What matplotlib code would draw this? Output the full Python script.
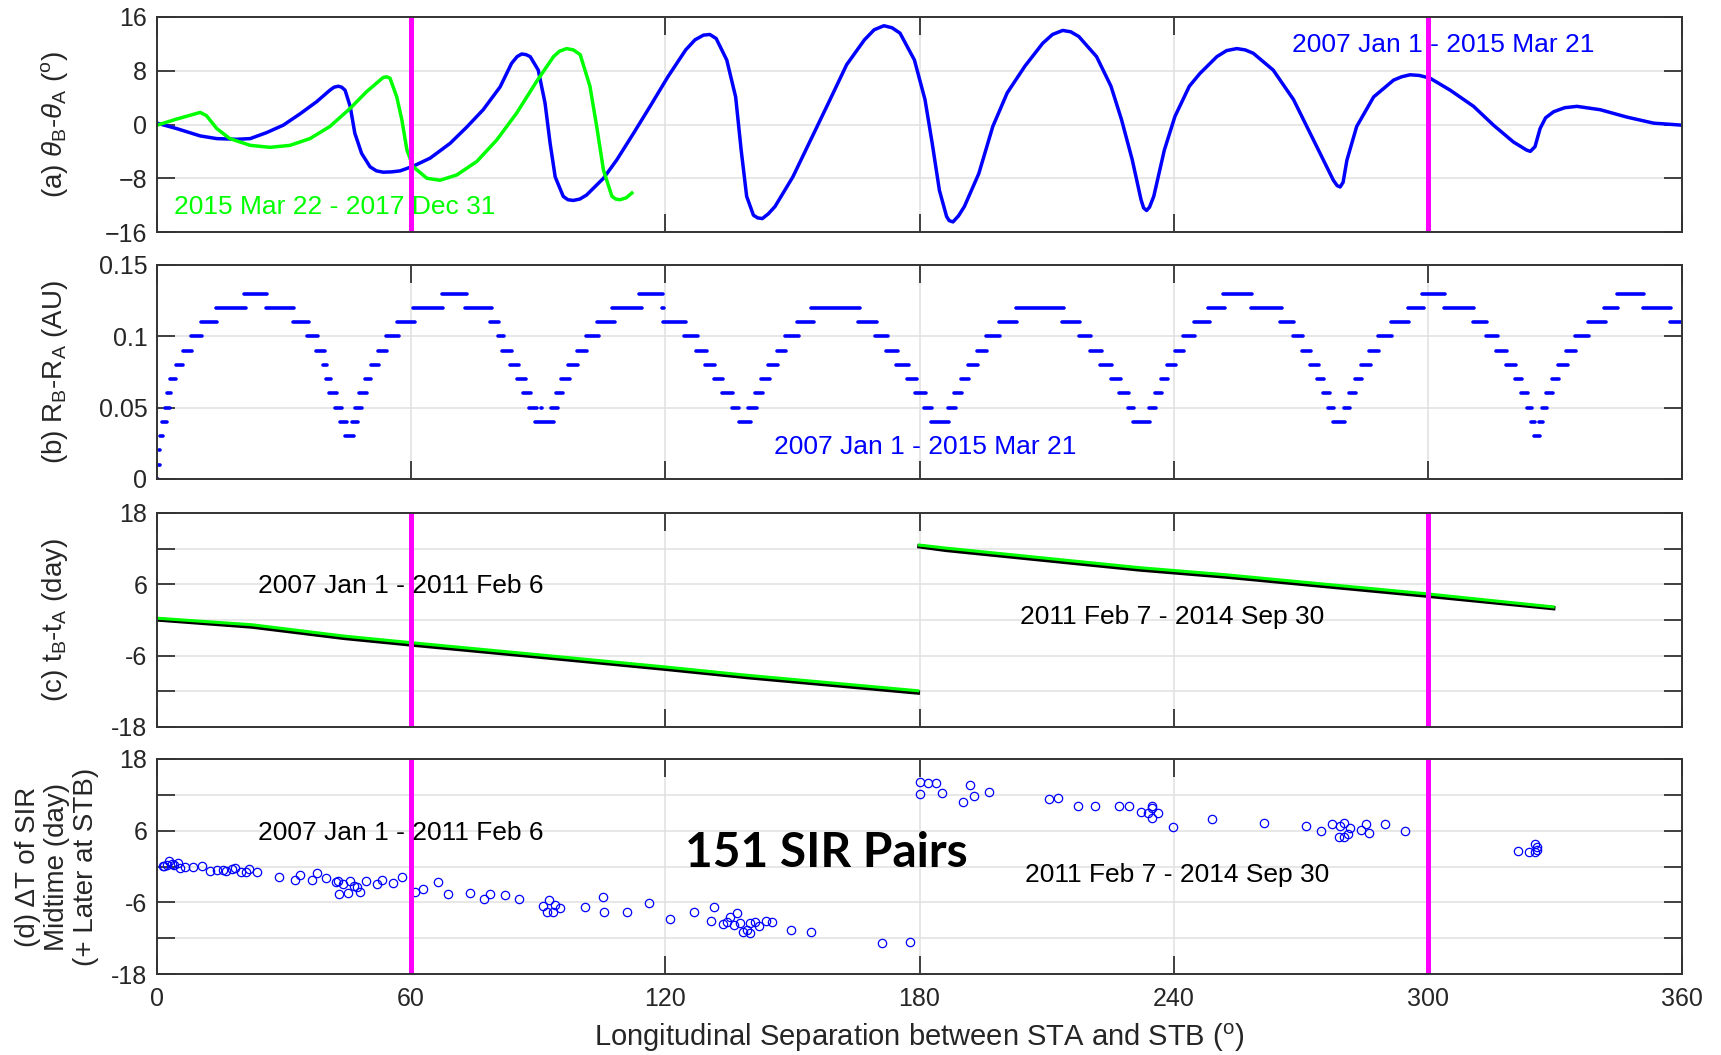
import matplotlib
matplotlib.use("Agg")
import matplotlib.pyplot as plt

plt.rcParams['font.family'] = ['Liberation Sans', 'DejaVu Sans']
plt.rcParams['mathtext.fontset'] = 'custom'
plt.rcParams['mathtext.rm'] = 'Liberation Sans'
plt.rcParams['mathtext.it'] = 'Liberation Sans:italic'
plt.rcParams['mathtext.bf'] = 'Liberation Sans:bold'

# ---------------- data ----------------
# (a) latitude difference, STEREO era 1 (blue) and era 2 (green)
a_blue_lon = [0, 4.6, 10.2, 14.1, 18.8, 22.0, 25.9, 29.8, 33.8, 37.7, 40.8, 41.8, 42.8, 43.6,
              44.4, 45.6, 46.7, 48.3, 50.3, 51.8, 53.4, 55.4, 57.4, 60.5, 64.5, 69.2, 73.1,
              77.0, 81.0, 83.7, 85.0, 86.1, 87.1, 88.1, 90.0, 91.6, 92.8, 94.0, 95.9, 97.0,
              98.3, 99.8, 101.4, 105.4, 108.5, 112.5, 116.4, 120.6, 124.8, 127.0, 129.0,
              130.5, 132.0, 134.5, 136.6, 137.9, 139.2, 140.8, 141.8, 142.9, 144.3, 145.9,
              150.1, 154.3, 158.5, 162.8, 167.0, 169.3, 171.6, 173.5, 175.4, 178.8, 181.3,
              183.0, 184.7, 186.4, 187.0, 187.9, 189.2, 190.6, 194.0, 197.3, 200.7, 204.9,
              209.1, 211.4, 213.8, 215.7, 217.6, 221.8, 225.2, 227.7, 230.2, 232.3, 232.9,
              233.6, 234.3, 235.3, 237.8, 240.3, 243.7, 246.2, 250.2, 252.5, 254.9, 256.9,
              258.8, 263.5, 268.3, 273.0, 277.7, 278.6, 279.3, 280.0, 280.9, 283.2, 287.2,
              291.9, 293.8, 295.8, 298.0, 300.5, 305.3, 310.8, 315.5, 320.2, 323.3, 324.2,
              325.3, 326.5, 327.8, 329.7, 332.3, 335.2, 340.7, 347.0, 353.3, 360.0]
a_blue_val = [0.2, -0.6, -1.7, -2.1, -2.2, -2.1, -1.2, -0.1, 1.6, 3.4, 5.1, 5.55, 5.7, 5.55,
              5.1, 2.7, -1.3, -4.3, -6.3, -6.9, -7.1, -7.05, -6.9, -6.2, -5.0, -2.8, -0.4,
              2.2, 5.6, 9.1, 10.1, 10.5, 10.4, 10.1, 8.1, 3.2, -2.8, -7.8, -10.7, -11.2,
              -11.3, -11.1, -10.5, -8.0, -5.3, -1.3, 2.7, 7.1, 11.1, 12.6, 13.3,
              13.4, 12.8, 9.6, 4.1, -3.8, -10.7, -13.5, -13.9, -14.0, -13.3, -12.2,
              -7.8, -2.3, 3.2, 8.9, 12.6, 14.1, 14.7, 14.4, 13.6, 9.6, 3.7,
              -2.8, -9.8, -13.7, -14.3, -14.5, -13.6, -12.2, -7.3, -0.3, 4.7, 8.7,
              12.1, 13.4, 14.0, 13.8, 13.1, 10.1, 5.7, 0.7, -5.2, -11.2, -12.4,
              -12.8, -12.3, -10.7, -3.8, 1.2, 5.7, 7.6, 10.1, 11.0, 11.3, 11.1,
              10.6, 8.1, 3.7, -2.3, -8.3, -9.1, -9.3, -8.6, -5.3, -0.3, 4.1,
              6.6, 7.1, 7.4, 7.3, 6.9, 5.1, 2.7, -0.1, -2.6, -3.8, -4.0,
              -3.3, -0.6, 1.0, 1.9, 2.5, 2.7, 2.2, 1.1, 0.2, -0.1]
a_green_lon = [0, 4.6, 10.2, 11.7, 14.1, 17.2, 22.0, 26.7, 31.4, 36.1, 40.8, 45.6, 49.5,
               53.4, 54.2, 55.0, 56.6, 57.8, 59.0, 60.5, 63.7, 66.8, 70.8, 75.5, 80.2, 84.9,
               89.6, 93.6, 95.0, 96.7, 98.3, 99.9, 102.2, 103.8, 105.4, 107.4, 108.3, 109.3,
               110.8, 112.1]
a_green_val = [-0.1, 0.8, 1.8, 1.3, -0.6, -2.1, -3.1, -3.4, -3.1, -2.1, -0.3, 2.4, 4.9,
               7.0, 7.1, 6.9, 4.1, 0.7, -3.8, -6.3, -8.0, -8.3, -7.5, -5.5, -2.3, 1.7,
               6.4, 10.1, 10.9, 11.3, 11.1, 10.4, 5.7, -0.3, -6.8, -10.7, -11.1, -11.2,
               -10.9, -10.2]

# (b) radial distance difference, runs of constant rounded value
b_level = [0.00, 0.01, 0.02, 0.03, 0.04, 0.05, 0.06, 0.07, 0.08, 0.09, 0.10, 0.11, 0.12, 0.13,
           0.12, 0.11, 0.10, 0.09, 0.08, 0.07, 0.06, 0.05, 0.04, 0.03, 0.04, 0.05, 0.06, 0.07,
           0.08, 0.09, 0.10, 0.11, 0.12, 0.13, 0.12, 0.11, 0.10, 0.09, 0.08, 0.07, 0.06, 0.05,
           0.04, 0.05, 0.05, 0.06, 0.07, 0.08, 0.09, 0.10, 0.11, 0.12, 0.13, 0.12, 0.11, 0.10,
           0.09, 0.08, 0.07, 0.06, 0.05, 0.04, 0.05, 0.06, 0.07, 0.08, 0.09, 0.10, 0.11, 0.12,
           0.11, 0.10, 0.09, 0.08, 0.07, 0.06, 0.05, 0.04, 0.05, 0.06, 0.07, 0.08, 0.09, 0.10,
           0.11, 0.12, 0.11, 0.10, 0.09, 0.08, 0.07, 0.06, 0.05, 0.04, 0.05, 0.06, 0.07, 0.08,
           0.09, 0.10, 0.11, 0.12, 0.13, 0.12, 0.11, 0.10, 0.09, 0.08, 0.07, 0.06, 0.05, 0.04,
           0.05, 0.06, 0.07, 0.08, 0.09, 0.10, 0.11, 0.12, 0.13, 0.12, 0.11, 0.10, 0.09, 0.08,
           0.07, 0.06, 0.05, 0.04, 0.03, 0.04, 0.05, 0.06, 0.07, 0.08, 0.09, 0.10, 0.11, 0.12,
           0.13, 0.12, 0.11]
b_start = [0.0, 0.1, 0.4, 0.6, 1.1, 1.9, 2.4, 3.1, 4.5, 6.2, 8.0, 10.4, 13.9, 20.6,
           25.8, 32.2, 35.4, 37.5, 39.3, 39.9, 40.7, 42.0, 43.2, 44.4, 46.0, 46.8, 47.8, 49.1,
           50.4, 52.1, 54.1, 56.6, 60.5, 67.2, 72.7, 78.6, 80.4, 81.4, 83.3, 84.9, 86.5, 87.9,
           89.2, 90.6, 93.0, 94.1, 95.4, 97.0, 99.1, 101.2, 103.8, 107.5, 113.9, 119.2, 119.4, 124.4,
           127.2, 129.4, 131.5, 133.4, 135.7, 137.3, 139.6, 141.2, 142.7, 144.3, 146.3, 148.2, 151.0, 154.5,
           165.5, 169.5, 172.0, 174.5, 177.0, 179.0, 181.0, 182.7, 186.7, 188.2, 189.7, 191.4, 193.5, 195.7,
           198.7, 202.7, 213.7, 217.7, 220.2, 222.7, 225.2, 227.2, 229.2, 230.5, 234.2, 235.5, 236.9, 238.4,
           240.2, 242.2, 244.7, 248.2, 251.7, 258.2, 265.2, 268.2, 270.2, 272.2, 273.9, 275.3, 276.5, 277.5,
           280.2, 281.3, 282.7, 284.2, 286.2, 288.2, 291.2, 295.2, 298.7, 303.7, 310.7, 313.7, 316.2, 318.5,
           320.5, 322.0, 323.3, 324.3, 325.0, 326.2, 326.9, 327.9, 329.2, 330.7, 332.7, 334.7, 337.7, 341.7,
           344.7, 350.7, 357.2]
b_end = [0.2, 0.6, 0.7, 1.5, 2.3, 3.1, 3.3, 4.6, 6.2, 8.2, 10.6, 14.1, 21.0, 25.9,
         32.4, 35.8, 38.1, 39.7, 40.2, 41.1, 42.4, 43.6, 44.8, 46.6, 47.4, 48.4, 49.5, 50.5,
         52.5, 54.4, 57.1, 60.9, 67.6, 73.1, 79.0, 80.7, 81.9, 83.9, 85.5, 87.0, 88.4, 89.8,
         93.6, 91.0, 94.7, 95.9, 97.5, 99.5, 101.6, 104.4, 108.1, 114.4, 119.5, 119.6, 124.8, 127.8,
         129.9, 131.7, 133.7, 135.9, 137.5, 140.3, 141.6, 143.1, 144.7, 146.7, 148.5, 151.5, 155.0, 166.0,
         170.0, 172.5, 175.0, 177.5, 179.5, 181.5, 183.0, 187.0, 188.5, 190.0, 191.7, 193.8, 196.0, 199.0,
         203.0, 214.0, 218.0, 220.5, 223.0, 225.5, 227.5, 229.5, 230.7, 234.5, 235.8, 237.2, 238.7, 240.5,
         242.5, 245.0, 248.5, 252.0, 258.5, 265.5, 268.5, 270.5, 272.5, 274.2, 275.6, 276.8, 277.8, 280.5,
         281.6, 283.0, 284.5, 286.5, 288.5, 291.5, 295.5, 299.0, 304.0, 311.0, 314.0, 316.5, 318.8, 320.8,
         322.3, 323.6, 324.6, 325.3, 326.5, 327.2, 328.2, 329.5, 331.0, 333.0, 335.0, 338.0, 342.0, 345.0,
         351.0, 357.5, 360.0]

# (c) time lag t_B - t_A (day), two sub-periods; black and green traces
c1_lon = [0, 22.4, 44.1, 59.8, 92.3, 120.0, 139.3, 179.6]
c1_black = [0.1, -1.1, -3.0, -4.1, -6.3, -8.2, -9.6, -12.2]
c1_green = [0.3, -0.8, -2.7, -3.8, -6.0, -7.9, -9.3, -11.9]
c2_lon = [180.0, 186.2, 232.0, 252.5, 279.0, 299.8, 329.6]
c2_black = [12.4, 11.8, 8.5, 7.3, 5.5, 4.1, 2.0]
c2_green = [12.6, 12.1, 8.8, 7.6, 5.8, 4.4, 2.2]

# (d) SIR midtime differences
d_lon = [1.3, 1.7, 2.3, 2.9, 3.5, 3.9, 5.0, 5.4, 6.6, 8.4, 10.7, 12.5, 14.1, 15.5, 16.3, 17.7,
         18.4, 19.8, 21.0, 21.8, 23.5, 28.9, 32.6, 33.8, 36.7, 37.7, 39.9, 42.3, 42.8, 43.8,
         45.6, 46.4, 47.2, 47.9, 42.9, 45.2, 49.3, 52.0, 53.1, 55.6, 57.8, 60.9, 62.9, 66.4,
         68.6, 73.9, 77.1, 78.5,
         82.2, 85.5, 91.2, 92.5, 92.0, 93.4, 94.0, 95.1, 101.0, 105.4, 105.6, 110.9, 116.1,
         121.0, 126.8, 130.7, 131.5, 133.5, 134.5, 135.3, 136.1, 136.8, 137.6, 138.4, 139.2,
         140.0, 140.1, 141.2, 142.2, 143.7, 145.1, 149.7, 154.4, 171.2, 177.8,
         180.0, 182.1, 183.9, 180.1, 185.4, 190.2, 191.9, 192.9, 196.3,
         210.6, 212.8, 217.5, 221.5, 227.0, 229.4, 232.4, 233.9, 234.8, 235.0, 234.8, 236.4,
         239.9, 249.1, 261.4, 271.2, 274.8, 277.4, 279.3, 280.2, 279.1, 280.2, 281.2, 281.7,
         284.2, 285.5, 286.0, 289.9, 294.7, 321.4, 323.8, 325.4, 325.4, 325.8, 325.8]
d_dt = [0.14, 0.14, 0.25, 0.97, 0.42, 0.25, 0.53, -0.20, -0.03, -0.03, 0.14, -0.70, -0.59,
        -0.59, -0.70, -0.48, -0.20, -0.87, -0.87, -0.48, -0.98, -1.71, -2.27, -1.43, -2.27,
        -1.15, -1.87, -2.54, -2.43, -2.99, -2.43, -3.21, -3.38, -4.22, -4.66, -4.38, -2.38,
        -2.99, -2.27, -2.82, -1.82, -4.22, -3.77, -2.54, -4.66, -4.49, -5.49, -4.60,
        -4.77, -5.50, -6.61, -5.61, -7.68, -7.68, -6.45, -7.01, -6.85, -5.07, -7.68, -7.57,
        -6.06, -8.80, -7.68, -9.08, -6.85, -9.63, -9.24, -8.41, -9.80, -7.73, -9.41, -10.92,
        -10.64, -11.09, -9.52, -9.24, -9.91, -9.13, -9.35, -10.64, -11.03, -12.87, -12.70,
        14.10, 13.93, 13.93, 12.09, 12.26, 10.86, 13.65, 11.81, 12.54,
        11.25, 11.42, 10.19, 10.13, 10.19, 10.13, 9.18, 9.01, 10.13, 9.74, 8.06, 8.90,
        6.56, 7.90, 7.23, 6.84, 5.94, 7.12, 6.78, 7.23, 4.99, 4.99, 5.44, 6.39,
        6.11, 7.12, 5.66, 7.12, 5.94, 2.59, 2.37, 2.48, 3.77, 3.20, 2.76]

x_ticks = [0, 60, 120, 180, 240, 300, 360]
marker_lon = [60, 300]
a_ticks = [-16, -8, 0, 8, 16]
b_ticks = [0, 0.05, 0.10, 0.15]
b_tick_labels = ['0', '0.05', '0.1', '0.15']
cd_ticks = [-18, -12, -6, 0, 6, 12, 18]
cd_tick_labels = ['-18', '', '-6', '', '6', '', '18']

# ---------------- layout ----------------
W, H = 1721, 1055
fig = plt.figure(figsize=(W / 100, H / 100), dpi=100)
fig.patch.set_facecolor('white')
AX_L, AX_R = 157, 1682
EDGE = '#333333'
BLUE, GREEN, MAGENTA = '#0000ff', '#00ff00', '#ff00ff'


def make_axes(top, bottom):
    return fig.add_axes([AX_L / W, 1 - bottom / H, (AX_R - AX_L) / W, (bottom - top) / H])


def style(ax, yticks, ylim, ylabels=None, xlabels=False):
    ax.set_xlim(0, 360)
    ax.set_ylim(*ylim)
    ax.set_xticks(x_ticks)
    ax.set_yticks(yticks)
    if ylabels is not None:
        ax.set_yticklabels(ylabels)
    ax.tick_params(direction='in', length=13, width=1.3, color=EDGE, labelcolor='#262626',
                   top=True, right=True, labelsize=18, pad=7, labelbottom=xlabels)
    ax.tick_params(axis='x', pad=9)
    ax.grid(True, color='#e0e0e0', lw=1.1)
    ax.set_axisbelow(True)
    for s in ax.spines.values():
        s.set_color(EDGE)
        s.set_linewidth(1.4)
        s.set_zorder(6)


def ylabel(text, x, y, **kw):
    fig.text(x / W, 1 - y / H, text, rotation=90, ha='center', va='center',
             fontsize=20, color='#262626', **kw)


ax_a = make_axes(17, 232)
ax_b = make_axes(265, 479)
ax_c = make_axes(513, 727)
ax_d = make_axes(759, 974)

# (a)
style(ax_a, a_ticks, (-16, 16))
ax_a.plot(a_blue_lon, a_blue_val, color=BLUE, lw=2.5, zorder=3, solid_joinstyle='round')
ax_a.plot(a_green_lon, a_green_val, color=GREEN, lw=2.5, zorder=3, solid_joinstyle='round')
for m in marker_lon:
    ax_a.axvline(m, color=MAGENTA, lw=3.6, zorder=4)
ax_a.text(4.0, -12.3, '2015 Mar 22 - 2017 Dec 31', color=GREEN, fontsize=19,
          ha='left', va='center', zorder=5)
ax_a.text(268, 11.8, '2007 Jan 1 - 2015 Mar 21', color=BLUE, fontsize=19,
          ha='left', va='center', zorder=5)
ylabel(r'(a) $\theta_{\rm B}$-$\theta_{\rm A}$ ($^{\rm o}$)', 55, 124.5)

# (b)
style(ax_b, b_ticks, (0, 0.15), b_tick_labels)
ax_b.hlines(b_level, b_start, b_end, colors=BLUE, lw=2.6, capstyle='round', zorder=3)
ax_b.text(145.7, 0.0224, '2007 Jan 1 - 2015 Mar 21', color=BLUE, fontsize=19,
          ha='left', va='center', zorder=5)
ylabel(r'(b) R$_{\rm B}$-R$_{\rm A}$ (AU)', 55, 372)

# (c)
style(ax_c, cd_ticks, (-18, 18), cd_tick_labels)
for lon, blk, grn in ((c1_lon, c1_black, c1_green), (c2_lon, c2_black, c2_green)):
    ax_c.plot(lon, blk, color='black', lw=3.2, zorder=3)
    ax_c.plot(lon, grn, color=GREEN, lw=2.2, zorder=3)
for m in marker_lon:
    ax_c.axvline(m, color=MAGENTA, lw=3.6, zorder=4)
ax_c.text(23.8, 5.7, '2007 Jan 1 - 2011 Feb 6', color='black', fontsize=19,
          ha='left', va='center', zorder=5)
ax_c.text(203.7, 0.5, '2011 Feb 7 - 2014 Sep 30', color='black', fontsize=19,
          ha='left', va='center', zorder=5)
ylabel(r'(c) t$_{\rm B}$-t$_{\rm A}$ (day)', 55, 620)

# (d)
style(ax_d, cd_ticks, (-18, 18), cd_tick_labels, xlabels=True)
ax_d.plot(d_lon, d_dt, linestyle='none', marker='o', ms=6, mfc='none', mec=BLUE,
          mew=0.9, zorder=3)
for m in marker_lon:
    ax_d.axvline(m, color=MAGENTA, lw=3.6, zorder=4)
ax_d.text(23.8, 5.6, '2007 Jan 1 - 2011 Feb 6', color='black', fontsize=19,
          ha='left', va='center', zorder=5)
ax_d.text(204.9, -1.4, '2011 Feb 7 - 2014 Sep 30', color='black', fontsize=19,
          ha='left', va='center', zorder=5)
ax_d.text(124.6, 2.3, '151 SIR Pairs', color='black', fontsize=34.5, fontweight='bold',
          family=['Lato', 'DejaVu Sans'], ha='left', va='center', zorder=5)
ylabel('(d) \u0394T of SIR\nMidtime (day)\n(+ Later at STB)', 57, 867,
       multialignment='center', linespacing=1.15)

fig.text((AX_L + AX_R) / 2 / W, 1 - 1038 / H,
         r'Longitudinal Separation between STA and STB ($^{\rm o}$)',
         ha='center', va='center', fontsize=21, color='#262626')

fig.savefig('out.png', dpi=100, facecolor='white')
